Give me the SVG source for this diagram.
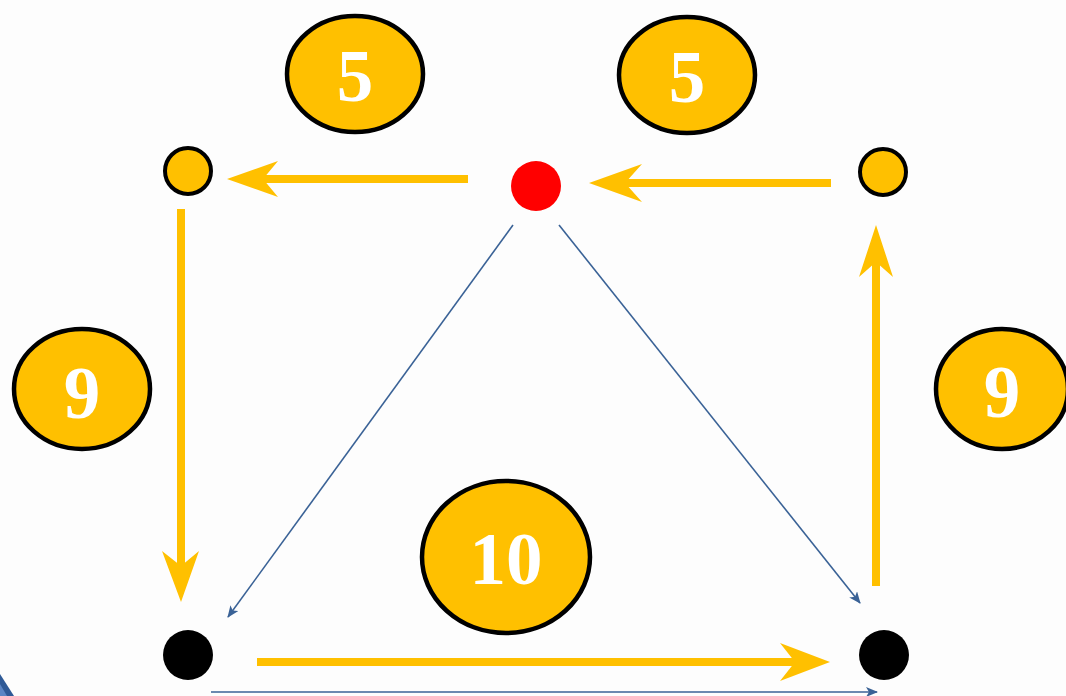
<svg xmlns="http://www.w3.org/2000/svg" width="1066" height="696" viewBox="0 0 1066 696">
<defs>
<style>
.ol{stroke:#FFC000;stroke-width:8;fill:none}
.oh{fill:#FFC000}
.bl{stroke:#3A6296;stroke-width:1.6;fill:none;marker-end:url(#bh)}
.lab{fill:#FFC000;stroke:#000;stroke-width:4.5}
.t{font-family:"Liberation Serif","Times New Roman",serif;font-weight:bold;font-size:73px;fill:#fff;text-anchor:middle}
</style>
<marker id="bh" viewBox="0 0 12 10" refX="11" refY="5" markerWidth="12" markerHeight="10" markerUnits="userSpaceOnUse" orient="auto">
<path d="M0,0 L12,5 L0,10 L3,5 Z" fill="#3A6296"/>
</marker>
</defs>
<rect width="1066" height="696" fill="#fdfdfd"/>
<polygon points="0,674 14,696 0,696" fill="#2F5A97"/>
<polygon points="0,684 7,696 0,696" fill="#5B85C4"/>
<g id="connectors">
<line class="ol" x1="468" y1="179" x2="262" y2="179"/>
<polygon class="oh" points="227,179 278,161 263,179 278,197"/>
<line class="ol" x1="831" y1="183" x2="624" y2="183"/>
<polygon class="oh" points="589,183 642,164 625,183 642,202"/>
<line class="ol" x1="181" y1="209" x2="181" y2="568"/>
<polygon class="oh" points="181,602 162,551 181,566 199,551"/>
<line class="ol" x1="876" y1="586" x2="876" y2="260"/>
<polygon class="oh" points="876,225 859,277 876,262 893,277"/>
<line class="ol" x1="257" y1="662" x2="797" y2="662"/>
<polygon class="oh" points="830,662 780,643 795,662 780,681"/>
<line class="bl" x1="513" y1="225" x2="228" y2="617"/>
<line class="bl" x1="559" y1="225" x2="860" y2="603"/>
<line class="bl" x1="211" y1="692" x2="877" y2="692"/>
</g>
<g id="n_tl"><circle cx="188" cy="171" r="23" fill="#FFC000" stroke="#000" stroke-width="4"/></g>
<g id="n_top"><circle cx="536" cy="186" r="25" fill="#FF0000"/></g>
<g id="n_tr"><circle cx="883" cy="172" r="23" fill="#FFC000" stroke="#000" stroke-width="4"/></g>
<g id="n_bl"><circle cx="188" cy="655" r="25" fill="#000"/></g>
<g id="n_br"><circle cx="884" cy="655" r="25" fill="#000"/></g>
<g id="l5a"><ellipse class="lab" cx="355" cy="74" rx="68" ry="58"/><text class="t" x="355" y="101">5</text></g>
<g id="l5b"><ellipse class="lab" cx="687" cy="75" rx="68" ry="58"/><text class="t" x="687" y="102">5</text></g>
<g id="l9a"><ellipse class="lab" cx="82" cy="389" rx="68" ry="60"/><text class="t" x="82" y="418">9</text></g>
<g id="l9b"><ellipse class="lab" cx="1002" cy="389" rx="66" ry="60"/><text class="t" x="1002" y="417">9</text></g>
<g id="l10"><ellipse class="lab" cx="506" cy="557" rx="84" ry="76"/><text class="t" x="506" y="584">10</text></g>
</svg>
